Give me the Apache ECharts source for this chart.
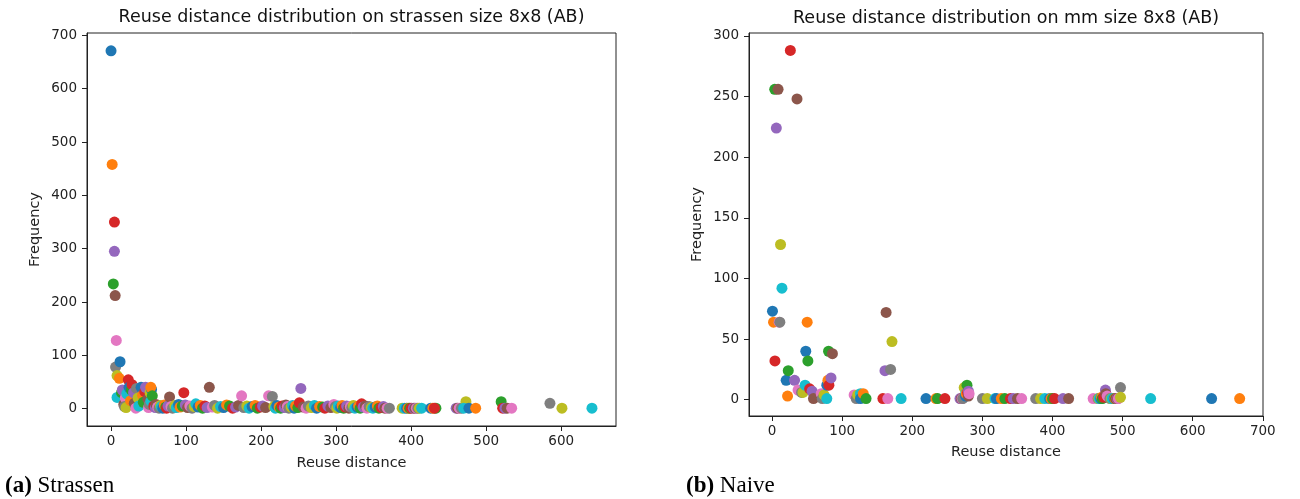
<!DOCTYPE html>
<html>
<head>
<meta charset="utf-8">
<script src="https://cdn.jsdelivr.net/npm/echarts@6/dist/echarts.min.js"></script>
<style>
html,body{margin:0;padding:0;background:#fff;}
#c{width:1300px;height:499px;}
</style>
</head>
<body>
<div id="c"></div>
<script>
// ---------- DATA ----------
const titleA = 'Reuse distance distribution on strassen size 8x8 (AB)';
const titleB = 'Reuse distance distribution on mm size 8x8 (AB)';
const xName = 'Reuse distance';
const yName = 'Frequency';
const captionA = ['(a)', 'Strassen'];
const captionB = ['(b)', 'Naive'];

const ticksAx = [0, 100, 200, 300, 400, 500, 600];
const ticksAy = [0, 100, 200, 300, 400, 500, 600, 700];
const ticksBx = [0, 100, 200, 300, 400, 500, 600, 700];
const ticksBy = [0, 50, 100, 150, 200, 250, 300];

const strassenDistance = [
  0, 1.5, 3, 4.5, 4.5, 5.5, 7, 6, 8, 8, 12, 11,
  14, 23, 15, 17, 19, 18, 20, 21, 24, 26, 27, 28, 30, 31, 33, 34, 36, 37, 40, 42, 43, 45, 46, 49, 50, 51, 52, 53, 54, 53, 55,
  57, 59, 60, 62, 64, 66, 67, 69, 71, 73, 74, 76, 78,
  80, 82, 85, 87, 90, 92, 95, 97,
  99, 102, 105, 108, 111, 113, 116, 119, 122, 125, 128, 131,
  135, 138, 142, 146, 150, 154, 158, 162, 166, 170, 174,
  177, 181, 184, 188, 192, 195, 199, 202, 206, 210,
  215,
  217, 219, 221, 224, 226, 228, 231, 233, 235, 237, 240, 242, 244, 246, 249, 251,
  253,
  256, 260, 263, 267, 271, 274, 278, 282, 285, 289, 293, 297,
  299, 301, 303, 306, 308, 310, 312, 314, 317, 319, 321, 323, 325, 328, 330, 332, 334,
  336, 339, 341, 344, 347, 349, 352, 355, 357, 360, 363, 365, 368, 371,
  388, 391, 394, 396, 398, 400, 403, 405, 407, 409, 411, 414, 426, 429, 433, 431,
  460, 462, 464, 467, 473, 470, 477, 486, 520, 522, 525, 528, 534, 585, 601, 641
];
const strassenFrequency = [
  671, 458, 234, 350, 295, 212, 128, 78, 62, 21, 88, 57,
  30, 54, 35, 8, 20, 4, 2, 28, 40, 15, 35, 45, 30, 10, 1, 38, 20, 5, 40, 25, 12, 32, 40, 18, 2, 8, 30, 14, 36, 40, 24,
  5, 2, 8, 3, 1, 6, 4, 1, 7, 3, 1, 5, 22,
  4, 1, 6, 2, 8, 3, 5, 30,
  7, 2, 5, 1, 4, 9, 3, 6, 1, 5, 2, 40,
  3, 6, 1, 4, 2, 7, 5, 1, 3, 6, 24,
  2, 5, 1, 4, 6, 1, 3, 5, 2, 24,
  23,
  4, 1, 6, 3, 1, 5, 2, 7, 4, 1, 3, 6, 1, 5, 2, 11,
  38,
  3, 1, 5, 2, 6, 1, 4, 3, 1, 5, 2, 8,
  4, 1, 5, 2, 6, 1, 3, 5, 1, 4, 2, 6, 1, 3, 5, 1, 9,
  3, 5, 1, 4, 2, 1, 3, 5, 1, 2, 4, 1, 1, 1,
  1, 1, 1, 1, 1, 1, 1, 1, 1, 1, 1, 1, 1, 1, 1, 1,
  1, 1, 1, 1, 13, 1, 1, 1, 13, 1, 1, 1, 1, 10, 1, 1
];

const naiveDistance = [
  0.5, 2, 3.7, 4, 6, 8.5, 10, 11, 12, 14,
  20, 22, 23, 26, 32, 35.5, 37, 42, 44, 47,
  48, 50, 51, 53.5, 57, 59, 70, 71.5, 74, 78,
  78, 79.6, 80.5, 81, 84, 86, 117, 120, 122, 126,
  126, 130, 134, 158, 161, 162.6, 165, 169, 171, 184,
  219.5, 233.7, 236, 246.5, 268, 270, 271, 272, 274, 276,
  276, 277, 278, 279, 280, 280, 281, 300, 307, 318,
  320, 327, 332, 340, 344, 350, 356, 376, 383, 389,
  396, 398, 400, 403, 415, 423, 458, 465, 466, 467,
  469, 470, 471, 473, 475.5, 476, 478, 482, 484, 485,
  488, 489, 490, 491, 492, 493, 494, 497, 497, 540,
  627, 667
];
const naiveFrequency = [
  73, 64, 256, 32, 224, 256, 64, 64, 128, 92,
  16, 3, 24, 288, 16, 248, 8, 6, 6, 12,
  40, 64, 32, 9, 7, 1, 5, 1, 4, 1,
  12, 16, 40, 12, 18, 38, 4, 1, 4, 5,
  1, 5, 1, 1, 24, 72, 1, 25, 48, 1,
  1, 1, 1, 1, 1, 1, 1, 1, 10, 5,
  3, 5, 12, 6, 7, 3, 5, 1, 1, 1,
  1, 1, 1, 1, 1, 1, 1, 1, 1, 1,
  1, 1, 1, 1, 1, 1, 1, 1, 1, 1,
  1, 2, 1, 2, 8, 5, 3, 1, 1, 1,
  1, 1, 1, 1, 1, 1, 1, 10, 2, 1,
  1, 1
];

// ---------- STYLE ----------
const TAB10 = ['#1f77b4','#ff7f0e','#2ca02c','#d62728','#9467bd','#8c564b','#e377c2','#7f7f7f','#bcbd22','#17becf'];
const INK = '#222';
const SANS = '"DejaVu Sans", sans-serif';
const SERIF = '"Liberation Serif", serif';

function pairs(xs, ys) { return xs.map((x, i) => [x, ys[i]]); }

function valueAxis(gridIndex, min, max, ticks, margin) {
  return {
    type: 'value', gridIndex, min, max,
    splitLine: { show: false },
    axisLine: { show: true, onZero: false, lineStyle: { color: INK, width: 1 } },
    axisTick: { show: true, inside: false, length: 5, customValues: ticks, lineStyle: { color: INK, width: 1 } },
    axisLabel: { show: true, customValues: ticks, margin, color: INK, fontFamily: SANS, fontSize: 13.5 }
  };
}

const grids = [
  { left: 87, top: 33, width: 529, height: 393 },
  { left: 749, top: 33, width: 514, height: 383 }
];

const chart = echarts.init(document.getElementById('c'), null, { renderer: 'canvas' });
chart.setOption({
  animation: false,
  backgroundColor: '#fff',
  grid: grids.map(g => Object.assign({ show: true, borderColor: INK, borderWidth: 1, backgroundColor: 'transparent' }, g)),
  xAxis: [
    valueAxis(0, -32.05, 673.05, ticksAx, 8),
    valueAxis(1, -33, 700.3, ticksBx, 8)
  ],
  yAxis: [
    valueAxis(0, -32.5, 704.5, ticksAy, 10),
    valueAxis(1, -13.4, 302.4, ticksBy, 10)
  ],
  series: [
    { type: 'scatter', xAxisIndex: 0, yAxisIndex: 0, data: pairs(strassenDistance, strassenFrequency) },
    { type: 'scatter', xAxisIndex: 1, yAxisIndex: 1, data: pairs(naiveDistance, naiveFrequency) }
  ].map(s => Object.assign(s, {
    symbol: 'circle', symbolSize: 11,
    itemStyle: { color: p => TAB10[p.dataIndex % 10], opacity: 1 },
    emphasis: { disabled: true }, silent: true
  })),
  graphic: [
    { type: 'text', x: 351.5, y: 17, style: { text: titleA, font: '17.5px ' + SANS, fill: '#111', align: 'center', verticalAlign: 'middle' } },
    { type: 'text', x: 1006, y: 18, style: { text: titleB, font: '17.5px ' + SANS, fill: '#111', align: 'center', verticalAlign: 'middle' } },
    { type: 'text', x: 351.5, y: 463, style: { text: xName, font: '14.5px ' + SANS, fill: INK, align: 'center', verticalAlign: 'middle' } },
    { type: 'text', x: 1006, y: 452, style: { text: xName, font: '14.5px ' + SANS, fill: INK, align: 'center', verticalAlign: 'middle' } },
    { type: 'text', x: 35, y: 229.5, rotation: Math.PI / 2, style: { text: yName, font: '14.5px ' + SANS, fill: INK, align: 'center', verticalAlign: 'middle' } },
    { type: 'text', x: 697, y: 224.5, rotation: Math.PI / 2, style: { text: yName, font: '14.5px ' + SANS, fill: INK, align: 'center', verticalAlign: 'middle' } },
    { type: 'text', x: 5, y: 486, style: { text: '{b|' + captionA[0] + '} ' + captionA[1], font: '23px ' + SERIF, fill: '#000', verticalAlign: 'middle',
        rich: { b: { font: 'bold 23px ' + SERIF, fill: '#000' } } } },
    { type: 'text', x: 686, y: 486, style: { text: '{b|' + captionB[0] + '} ' + captionB[1], font: '23px ' + SERIF, fill: '#000', verticalAlign: 'middle',
        rich: { b: { font: 'bold 23px ' + SERIF, fill: '#000' } } } }
  ]
});
</script>
</body>
</html>
